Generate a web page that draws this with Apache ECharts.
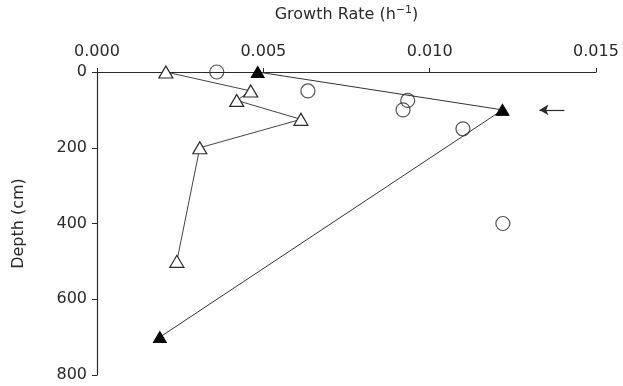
<!DOCTYPE html>
<html>
<head>
<meta charset="utf-8">
<script src="https://cdn.jsdelivr.net/npm/echarts@6/dist/echarts.min.js"></script>
<style>
  html, body { margin: 0; padding: 0; background: #fff; }
  #chart { width: 623px; height: 386px; }
</style>
</head>
<body>
<div id="chart"></div>
<script>
// Growth rate (h^-1) versus depth (cm)
const openTriRate  = [0.00207, 0.00462, 0.00420, 0.00613, 0.00309, 0.00240];
const openTriDepth = [0, 50, 75, 125, 200, 500];

const filledTriRate  = [0.00483, 0.01219, 0.00189];
const filledTriDepth = [0, 100, 700];

const circleRate  = [0.00360, 0.00634, 0.00934, 0.00920, 0.01100, 0.01220];
const circleDepth = [0, 50, 75, 100, 150, 400];

// Arrow pointing at the 100 cm level
const arrowRate  = [0.01405, 0.01330];
const arrowDepth = 100;

const xTicks = [0, 0.005, 0.010, 0.015];
const yTicks = [0, 200, 400, 600, 800];

const pair = (xs, ys) => xs.map((x, i) => [x, ys[i]]);

const ink = '#2a2a2a';
const font = 'DejaVu Sans';

const chart = echarts.init(document.getElementById('chart'));
chart.setOption({
  animation: false,
  backgroundColor: '#fff',
  grid: { left: 97, right: 27, top: 66, bottom: 11 },
  xAxis: {
    type: 'value',
    position: 'top',
    min: xTicks[0],
    max: xTicks[xTicks.length - 1],
    interval: 0.005,
    name: '{a|Growth Rate (h}{s|−1}{a|)}',
    nameLocation: 'middle',
    nameGap: 48,
    nameTextStyle: {
      rich: {
        a: { fontFamily: font, fontSize: 16, color: ink },
        s: { fontFamily: font, fontSize: 11, color: ink, verticalAlign: 'top', padding: [0, 0, 8, 0] }
      }
    },
    axisLine: { show: true, onZero: false, lineStyle: { color: ink, width: 1.2 } },
    axisTick: { show: true, inside: false, length: 4, lineStyle: { color: ink } },
    axisLabel: {
      margin: 12, fontFamily: font, fontSize: 16, color: ink,
      formatter: v => v.toFixed(3)
    },
    splitLine: { show: false }
  },
  yAxis: {
    type: 'value',
    inverse: true,
    min: yTicks[0],
    max: yTicks[yTicks.length - 1],
    interval: 200,
    name: 'Depth (cm)',
    nameLocation: 'middle',
    nameGap: 70,
    nameTextStyle: { fontFamily: font, fontSize: 16, color: ink },
    axisLine: { show: true, onZero: false, lineStyle: { color: ink, width: 1.2 } },
    axisTick: { show: true, inside: false, length: 5, lineStyle: { color: ink } },
    axisLabel: { margin: 10, fontFamily: font, fontSize: 16, color: ink },
    splitLine: { show: false }
  },
  series: [
    {
      type: 'line',
      data: pair(openTriRate, openTriDepth),
      symbol: 'triangle',
      symbolSize: [14, 12],
      showAllSymbol: true,
      lineStyle: { color: '#444', width: 1 },
      itemStyle: { color: '#fff', borderColor: ink, borderWidth: 1.2 },
      z: 3
    },
    {
      type: 'line',
      data: pair(filledTriRate, filledTriDepth),
      symbol: 'triangle',
      symbolSize: [13, 11],
      lineStyle: { color: '#333', width: 1 },
      itemStyle: { color: '#000', borderColor: '#000', borderWidth: 1 },
      z: 4,
      markLine: {
        silent: true,
        symbol: ['none', 'arrow'],
        symbolSize: [8, 9],
        label: { show: false },
        lineStyle: { color: ink, width: 1.2, type: 'solid' },
        data: [[
          { coord: [arrowRate[0], arrowDepth] },
          { coord: [arrowRate[1], arrowDepth] }
        ]]
      }
    },
    {
      type: 'scatter',
      data: pair(circleRate, circleDepth),
      symbol: 'circle',
      symbolSize: 14,
      itemStyle: { color: 'rgba(255,255,255,0)', borderColor: ink, borderWidth: 1.2 },
      z: 5
    }
  ]
});
</script>
</body>
</html>
